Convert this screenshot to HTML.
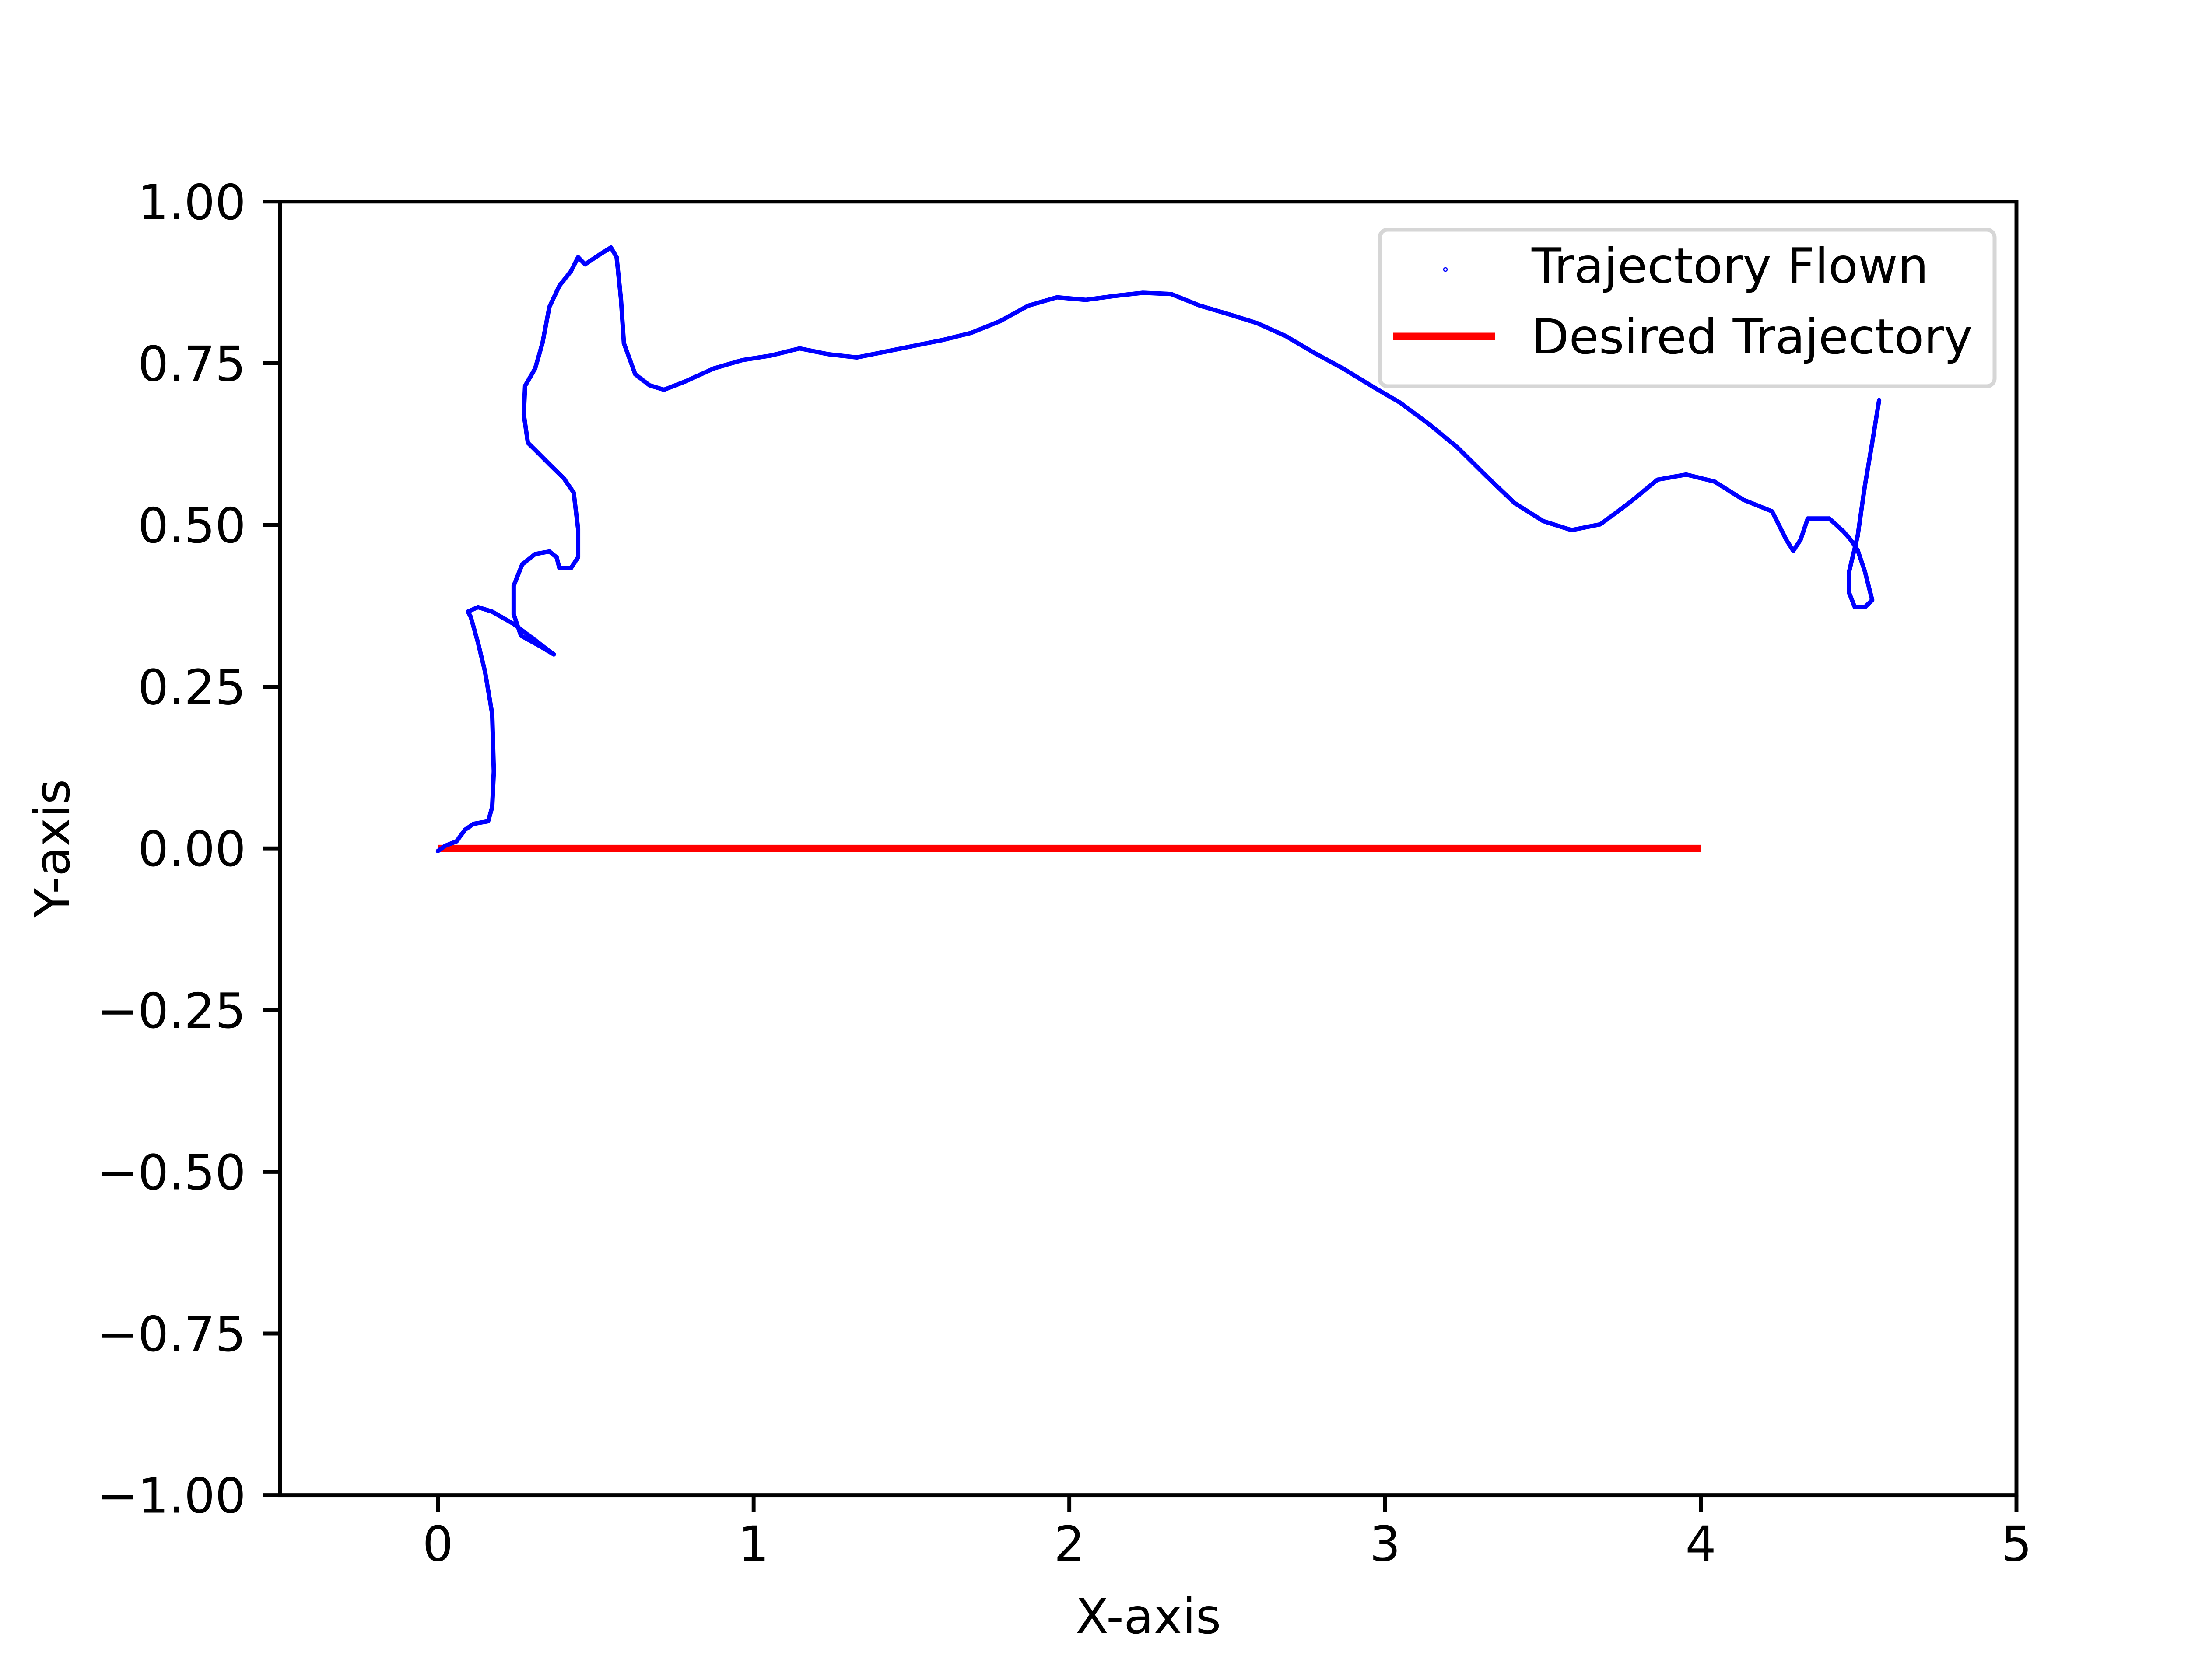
<!DOCTYPE html>
<html><head><meta charset="utf-8"><style>
html,body{margin:0;padding:0;background:#fff}
svg{display:block}
text{font-family:"DejaVu Sans","Liberation Sans",sans-serif;fill:#000}
</style></head><body>
<svg id="chart" width="5120" height="3840" viewBox="0 0 5120 3840" xmlns="http://www.w3.org/2000/svg">
<rect width="5120" height="3840" fill="#fff"/>
<g id="plot"></g>
<g id="axes"></g>
<g id="legend">
  <rect x="3153" y="525" width="1405" height="358" rx="18" fill="#fff" stroke="#d6d6d6" stroke-width="9"/>
  <circle cx="3303" cy="616" r="4" fill="#fff" stroke="#0000ff" stroke-width="2.5"/>
  <text x="3500" y="646" font-size="111">Trajectory Flown</text>
  <line x1="3184" y1="769" x2="3416" y2="769" stroke="#ff0000" stroke-width="17"/>
  <text x="3500" y="808" font-size="111">Desired Trajectory</text>
</g>
</svg>
<script>
const flownX=[0,0.023,0.059,0.086,0.113,0.159,0.172,0.177,0.172,0.149,0.127,0.104,0.095,0.127,0.172,0.24,0.308,0.353,0.367,0.322,0.263,0.24,0.24,0.267,0.308,0.353,0.376,0.385,0.421,0.444,0.444,0.43,0.399,0.353,0.308,0.285,0.272,0.276,0.308,0.331,0.353,0.385,0.421,0.444,0.466,0.512,0.548,0.566,0.58,0.589,0.625,0.67,0.716,0.784,0.874,0.965,1.055,1.146,1.236,1.327,1.418,1.508,1.599,1.689,1.78,1.87,1.961,2.052,2.142,2.233,2.323,2.414,2.504,2.595,2.686,2.776,2.867,2.957,3.048,3.139,3.229,3.32,3.41,3.501,3.591,3.682,3.773,3.863,3.954,4.044,4.135,4.226,4.271,4.293,4.316,4.339,4.407,4.452,4.475,4.497,4.52,4.543,4.52,4.488,4.47,4.47,4.497,4.52,4.543,4.565];
const flownY=[-0.004,0.004,0.011,0.029,0.038,0.042,0.064,0.119,0.208,0.274,0.318,0.358,0.366,0.373,0.366,0.347,0.322,0.305,0.3,0.313,0.329,0.362,0.406,0.439,0.455,0.459,0.45,0.433,0.433,0.45,0.494,0.55,0.572,0.594,0.616,0.627,0.671,0.715,0.742,0.781,0.837,0.87,0.892,0.914,0.903,0.918,0.929,0.914,0.848,0.781,0.733,0.716,0.709,0.722,0.742,0.755,0.762,0.773,0.764,0.759,0.768,0.777,0.786,0.797,0.815,0.839,0.852,0.848,0.854,0.859,0.857,0.839,0.826,0.812,0.792,0.766,0.742,0.715,0.689,0.656,0.62,0.576,0.534,0.506,0.492,0.501,0.534,0.57,0.578,0.567,0.539,0.521,0.477,0.46,0.477,0.51,0.51,0.49,0.477,0.461,0.428,0.384,0.373,0.373,0.395,0.428,0.483,0.561,0.627,0.693];
const desiredX=[0,4];
const desiredY=[0,0];
const xTicks=[0,1,2,3,4,5];
const yTicks=[-1,-0.75,-0.5,-0.25,0,0.25,0.5,0.75,1];
const yTickLabels=["\u22121.00","\u22120.75","\u22120.50","\u22120.25","0.00","0.25","0.50","0.75","1.00"];

const L=640,R=4608,T=460.8,B=3417.6,XMIN=-0.5,XMAX=5,YMIN=-1,YMAX=1;
const sx=v=>L+(v-XMIN)/(XMAX-XMIN)*(R-L);
const sy=v=>B-(v-YMIN)/(YMAX-YMIN)*(B-T);
const NS="http://www.w3.org/2000/svg";
const plot=document.getElementById('plot'),axes=document.getElementById('axes');
function mk(tag,attrs,parent){const e=document.createElementNS(NS,tag);for(const k in attrs)e.setAttribute(k,attrs[k]);parent.appendChild(e);return e;}

const dl=mk('polyline',{points:desiredX.map((x,i)=>sx(x)+','+sy(desiredY[i])).join(' '),fill:'none',stroke:'#ff0000','stroke-width':16.7},plot);



const fl=mk('polyline',{points:flownX.map((x,i)=>sx(x)+','+sy(flownY[i])).join(' '),fill:'none',stroke:'#0000ff','stroke-width':10,'stroke-linejoin':'round','stroke-linecap':'round'},plot);


flownX.forEach((x,i)=>{
  const c=mk('circle',{cx:sx(x),cy:sy(flownY[i]),r:5,fill:'#0000ff'},plot);
  
  
});

const fr=mk('rect',{x:L,y:T,width:R-L,height:B-T,fill:'none',stroke:'#000','stroke-width':8.9},axes);



xTicks.forEach(v=>{
  const t=mk('line',{x1:sx(v),x2:sx(v),y1:B,y2:B+39,stroke:'#000','stroke-width':8.9},axes);
  
  
  const tx=mk('text',{x:sx(v),y:B+150,'font-size':111,'text-anchor':'middle'},axes);
  tx.textContent=String(v);
  
  
});
yTicks.forEach((v,i)=>{
  const t=mk('line',{x1:L-39,x2:L,y1:sy(v),y2:sy(v),stroke:'#000','stroke-width':8.9},axes);
  
  
  const tx=mk('text',{x:L-78,y:sy(v)+40,'font-size':111,'text-anchor':'end'},axes);
  tx.textContent=yTickLabels[i];
  
  
});
const xl=mk('text',{x:(L+R)/2,y:3733,'font-size':111,'text-anchor':'middle'},axes);
xl.textContent='X-axis';


const yl=mk('text',{x:0,y:0,'font-size':111,'text-anchor':'middle',transform:'translate(158,'+((T+B)/2)+') rotate(-90)'},axes);
yl.textContent='Y-axis';


</script>
</body></html>
